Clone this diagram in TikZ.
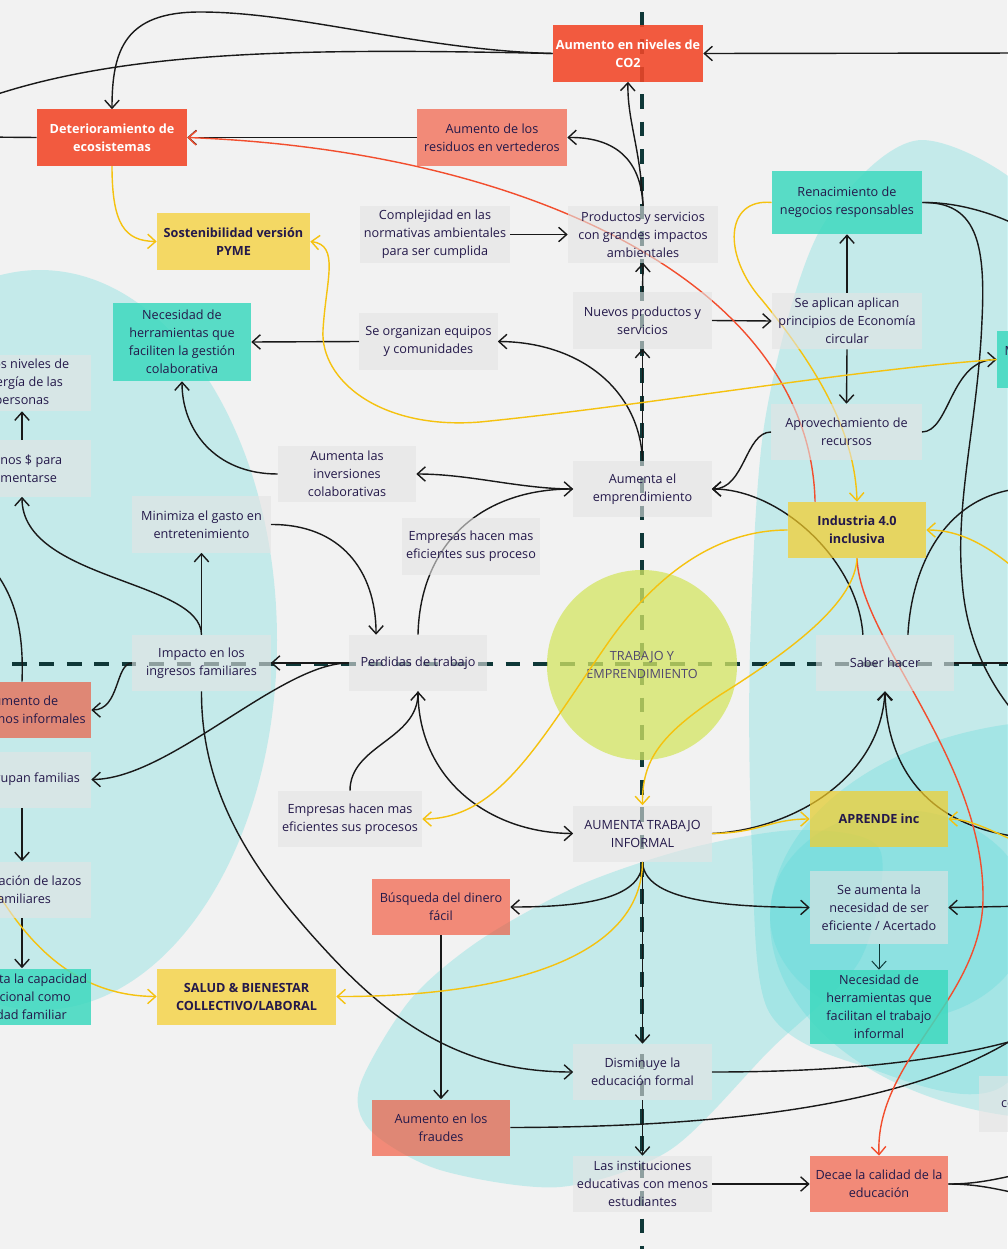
\documentclass[tikz,border=0pt]{standalone}
\usepackage{fontspec}
\setmainfont{Open Sans}
\usetikzlibrary{arrows.meta}
\pgfdeclarelayer{zones}
\pgfdeclarelayer{wires}
\pgfsetlayers{zones,wires,main}
\definecolor{paper}{HTML}{F2F2F2}
\definecolor{ink}{HTML}{24194A}
\definecolor{lagoon}{HTML}{56D9D9}
\definecolor{pale}{HTML}{E4E4E4}
\definecolor{flame}{HTML}{F24627}
\definecolor{gold}{HTML}{F5CD28}
\definecolor{mintgreen}{HTML}{3ED9BF}
\definecolor{lime}{HTML}{D4E664}
\definecolor{guideline}{HTML}{0F3838}
\definecolor{yline}{HTML}{F5C20F}
\definecolor{rline}{HTML}{F24E2E}
\begin{document}
\begin{tikzpicture}[x=0.025cm, y=-0.025cm,
    card/.style={rectangle, inner sep=0pt, align=center, text=ink, text opacity=1,
      font=\fontsize{9}{12.8}\selectfont, minimum width=3.45cm, minimum height=1.4cm},
    wide/.style={minimum width=3.75cm},
    plain/.style={card, fill=pale, fill opacity=0.6},
    hot/.style={card, fill=flame, fill opacity=0.88, text=white, font=\fontsize{9}{12.8}\selectfont\bfseries},
    warm/.style={card, fill=flame, fill opacity=0.6},
    sun/.style={card, fill=gold, fill opacity=0.7, font=\fontsize{9}{12.8}\selectfont\bfseries},
    mint/.style={card, fill=mintgreen, fill opacity=0.85},
    hub/.style={circle, inner sep=0pt, minimum size=4.75cm, fill=lime, fill opacity=0.76,
      text=ink!80, text opacity=1, align=center, font=\fontsize{9}{12.8}\selectfont},
    blob/.style={fill=lagoon, fill opacity=0.29},
    guide/.style={draw=guideline, line width=2.8pt, dash pattern=on 10.5pt off 9pt},
    link/.style={draw=black!90, line width=1pt, -{Straight Barb[length=2mm,width=3.6mm]}},
    wire/.style={draw=black!90, line width=1pt},
    ylink/.style={link, draw=yline},
    rlink/.style={link, draw=rline}]

    \path[use as bounding box] (0,0) rectangle (1007,1249);

    % off-page ends
    \coordinate (wA) at (-20,100);
    \coordinate (wB) at (-20,137);
    \coordinate (wC) at (-10,565);
    \coordinate (wD) at (-10,880);
    \coordinate (eA) at (1030,53);
    \coordinate (eB) at (1030,232);
    \coordinate (eC) at (1030,730);
    \coordinate (eD) at (1030,488);
    \coordinate (eE) at (1030,663);
    \coordinate (eF) at (1030,838);
    \coordinate (eG) at (1030,906);
    \coordinate (eH) at (1030,1036);
    \coordinate (eI) at (1030,1028);
    \coordinate (eJ) at (1030,1172);
    \coordinate (eK) at (1030,1196);
    \coordinate (eL) at (1030,582);
    \coordinate (eM) at (1030,848);

    \begin{pgfonlayer}{zones}
    \fill[paper] (0,0) rectangle (1007,1249);
    \fill[blob] (40,640) ellipse [x radius=237, y radius=370];
    \fill[blob] plot[smooth cycle] coordinates {(922,140) (1060,230) (1120,500) (1110,850)
      (1007,1083) (860,1065) (768,1010) (752,850) (750,650) (765,420) (820,230)};
    \fill[blob] plot[smooth cycle] coordinates {(360,1085) (410,1000) (480,940) (580,885)
      (690,848) (800,830) (880,850) (860,960) (770,1050) (670,1150) (560,1187) (440,1170) (370,1130)};
    \fill[blob] (1070,920) ellipse [x radius=300, y radius=200];
    \fill[blob] (900,915) ellipse [x radius=130, y radius=105];
    \draw[guide] (642,12) -- (642,1249);
    \draw[guide] (12,664) -- (1007,664);
    \node[hub] (hub) at (642,665) {TRABAJO Y\\EMPRENDIMIENTO};
    \end{pgfonlayer}

    \node[hot, wide] (co2) at (628,53.5) {Aumento en niveles de\\CO2};
    \node[hot, wide] (deter) at (112,137.5) {Deterioramiento de\\ecosistemas};
    \node[warm, wide] (resid) at (492,137.5) {Aumento de los\\residuos en vertederos};
    \node[sun, minimum width=3.825cm] (sost) at (233.5,241.5) {Sostenibilidad versión\\PYME};
    \node[plain, wide] (compl) at (435,234.5) {Complejidad en las\\normativas ambientales\\para ser cumplida};
    \node[plain, wide] (prod) at (643,234.5) {Productos y servicios\\con grandes impactos\\ambientales};
    \node[mint, wide, minimum height=1.575cm] (renac) at (847,202.5) {Renacimiento de\\negocios responsables};
    \node[plain] (nuevos) at (642.5,320.5) {Nuevos productos y\\servicios};
    \node[plain, wide] (aplican) at (847,321) {Se aplican aplican\\principios de Economía\\circular};
    \node[plain] (organ) at (428.5,341.5) {Se organizan equipos\\y comunidades};
    \node[mint, minimum height=1.95cm] (gestion) at (182,342) {Necesidad de\\herramientas que\\faciliten la gestión\\colaborativa};
    \node[plain] (energia) at (22,383) {Bajos niveles de\\energía de las\\personas};
    \node[plain] (menos) at (22,468.5) {Menos \$ para\\alimentarse};
    \node[plain] (invers) at (347,474) {Aumenta las\\inversiones\\colaborativas};
    \node[plain] (empr) at (642.5,489) {Aumenta el\\emprendimiento};
    \node[plain, wide] (aprov) at (846.5,432) {Aprovechamiento de\\recursos};
    \node[plain] (minim) at (201.5,524.5) {Minimiza el gasto en\\entretenimiento};
    \node[plain] (efic1) at (471,546.5) {Empresas hacen mas\\eficientes sus proceso};
    \node[sun] (indus) at (857,530) {Industria 4.0\\inclusiva};
    \node[mint] (mejora) at (1066,359.5) {Mayor productividad\\sostenible};
    \node[plain] (impacto) at (201.5,663) {Impacto en los\\ingresos familiares};
    \node[plain] (perdidas) at (418,663) {Perdidas de trabajo};
    \node[plain] (saber) at (885,663) {Saber hacer};
    \node[warm] (consumo) at (22,710) {Aumento de\\consumos informales};
    \node[plain] (agrupan) at (22,779.5) {Se agrupan familias};
    \node[plain, minimum width=3.6cm] (efic2) at (350,819) {Empresas hacen mas\\eficientes sus procesos};
    \node[plain] (informal) at (642.5,833.5) {AUMENTA TRABAJO\\INFORMAL};
    \node[sun] (aprende) at (879,819) {APRENDE inc};
    \node[plain] (lazos) at (22,889.5) {Generación de lazos\\familiares};
    \node[warm] (busq) at (441,907) {Búsqueda del dinero\\fácil};
    \node[plain, minimum height=1.825cm] (eficaz) at (879,907.5) {Se aumenta la\\necesidad de ser\\eficiente / Acertado};
    \node[mint] (capac) at (22,996.5) {Aumenta la capacidad\\emocional como\\unidad familiar};
    \node[sun, minimum width=4.475cm] (salud) at (246.5,996.5) {SALUD \& BIENESTAR\\COLLECTIVO/LABORAL};
    \node[mint, minimum height=1.85cm] (herrinf) at (879,1007) {Necesidad de\\herramientas que\\facilitan el trabajo\\informal};
    \node[plain] (dismin) at (642.5,1072) {Disminuye la\\educación formal};
    \node[warm] (fraude) at (441,1127.5) {Aumento en los\\fraudes};
    \node[plain] (instit) at (642.5,1184) {Las instituciones\\educativas con menos\\estudiantes};
    \node[warm] (decae) at (879,1184) {Decae la calidad de la\\educación};
    \node[plain] (digital) at (1048,1104) {consumo digital};

    \begin{pgfonlayer}{wires}
    \draw[link] (co2.west) .. controls (420,50) and (300,12) .. (200,12) .. controls (125,12) and (112,50) .. (deter.north);
    \draw[wire] (co2.west) .. controls (300,48) and (120,50) .. (wA);
    \draw[link] (eA) -- (co2.east);
    \draw[wire] (deter.west) -- (wB);
    \draw[link] (resid.west) -- (deter.east);
    \draw[link] (prod.north) .. controls (641,150) and (627,120) .. (co2.south);
    \draw[link] (prod.north) .. controls (641,155) and (610,137) .. (resid.east);
    \draw[link] (compl.east) -- (prod.west);
    \draw[link] (nuevos.north) -- (prod.south);
    \draw[link] (nuevos.east) -- (aplican.west);
    \draw[link] (aplican.north) -- (renac.south);
    \draw[link] (aplican.south) -- (aprov.north);
    \draw[link] (aprov.west) .. controls (745,432) and (745,489) .. (empr.east);
    \draw[link] (aprov.east) .. controls (950,432) and (950,360) .. (mejora.west);
    \draw[link] (saber.128) .. controls (858,560) and (780,489) .. (empr.east);
    \draw[wire] (saber.51) .. controls (912,560) and (950,490) .. (eD);
    \draw[wire] (saber.east) -- (eE);
    \draw[wire] (renac.east) .. controls (960,202) and (1000,215) .. (eB);
    \draw[wire] (renac.east) .. controls (975,202) and (986,240) .. (982,320)
      .. controls (978,420) and (955,500) .. (962,580) .. controls (966,640) and (990,690) .. (eC);
    \draw[link] (empr.north) -- (nuevos.south);
    \draw[link] (empr.north) .. controls (640,390) and (580,342) .. (organ.east);
    \draw[link] (empr.west) .. controls (520,489) and (470,474) .. (invers.east);
    \draw[link] (perdidas.north) .. controls (420,545) and (480,489) .. (empr.west);
    \draw[link] (invers.west) .. controls (215,474) and (182,430) .. (gestion.south);
    \draw[link] (organ.west) -- (gestion.east);
    \draw[link] (minim.east) .. controls (340,524) and (376,570) .. (perdidas.146);
    \draw[link] (impacto.north) -- (minim.south);
    \draw[link] (impacto.north) .. controls (201,580) and (22,580) .. (menos.south);
    \draw[link] (perdidas.west) -- (impacto.east);
    \draw[link] (perdidas.west) .. controls (280,663) and (170,779) .. (agrupan.east);
    \draw[link] (impacto.west) .. controls (115,663) and (120,710) .. (consumo.east);
    \draw[link] (menos.north) -- (energia.south);
    \draw[link] (agrupan.south) -- (lazos.north);
    \draw[link] (lazos.south) -- (capac.north);
    \draw[wire] (consumo.north) .. controls (24,630) and (15,595) .. (wC);
    \draw[link] (impacto.south) .. controls (201,800) and (260,880) .. (330,955)
      .. controls (400,1030) and (470,1072) .. (dismin.west);
    \draw[link] (efic2.north) .. controls (350,745) and (418,740) .. (perdidas.south);
    \draw[link] (perdidas.south) .. controls (418,780) and (490,833) .. (informal.west);
    \draw[link] (informal.east) .. controls (790,830) and (880,780) .. (saber.south);
    \draw[link] (eF) .. controls (930,830) and (887,770) .. (saber.south);
    \draw[link] (informal.south) .. controls (642,900) and (580,907) .. (busq.east);
    \draw[link] (informal.south) .. controls (644,900) and (720,907) .. (eficaz.west);
    \draw[link] (informal.south) -- (dismin.north);
    \draw[link] (eG) -- (eficaz.east);
    \draw[link, line width=0.7pt, draw=guideline] (eficaz.south) -- (herrinf.north);
    \draw[link] (busq.south) -- (fraude.north);
    \draw[link] (dismin.south) -- (instit.north);
    \draw[link] (instit.east) -- (decae.west);
    \draw[wire] (dismin.east) .. controls (850,1072) and (950,1060) .. (eH);
    \draw[wire] (fraude.east) .. controls (750,1127) and (930,1100) .. (eI);
    \draw[wire] (decae.east) .. controls (980,1184) and (1000,1178) .. (eJ);
    \draw[wire] (decae.east) .. controls (980,1184) and (1000,1190) .. (eK);
    % red
    \draw[rlink] (indus.146) .. controls (810,280) and (520,150) .. (deter.east);
    \draw[rlink] (indus.south) .. controls (860,640) and (985,760) .. (983,900)
      .. controls (981,1000) and (875,1060) .. (decae.north);
    % yellow
    \draw[ylink] (deter.south) .. controls (112,225) and (125,241) .. (sost.west);
    \draw[ylink] (mejora.west) .. controls (850,370) and (650,405) .. (480,422)
      .. controls (380,430) and (320,380) .. (323,330) .. controls (326,280) and (340,245) .. (sost.east);
    \draw[ylink] (renac.west) .. controls (725,198) and (722,255) .. (762,300)
      .. controls (815,365) and (855,430) .. (indus.north);
    \draw[ylink] (indus.west) .. controls (720,530) and (660,570) .. (610,640)
      .. controls (540,740) and (500,819) .. (efic2.east);
    \draw[ylink] (indus.south) .. controls (855,600) and (800,645) .. (720,695)
      .. controls (660,735) and (642,760) .. (informal.north);
    \draw[ylink] (eL) .. controls (990,545) and (960,530) .. (indus.east);
    \draw[ylink] (informal.east) .. controls (760,833) and (770,819) .. (aprende.west);
    \draw[ylink] (eM) .. controls (990,830) and (970,819) .. (aprende.east);
    \draw[ylink] (informal.south) .. controls (642,960) and (500,997) .. (salud.east);
    \draw[ylink] (wD) .. controls (30,950) and (80,996) .. (salud.west);
    \end{pgfonlayer}
\end{tikzpicture}
\end{document}
